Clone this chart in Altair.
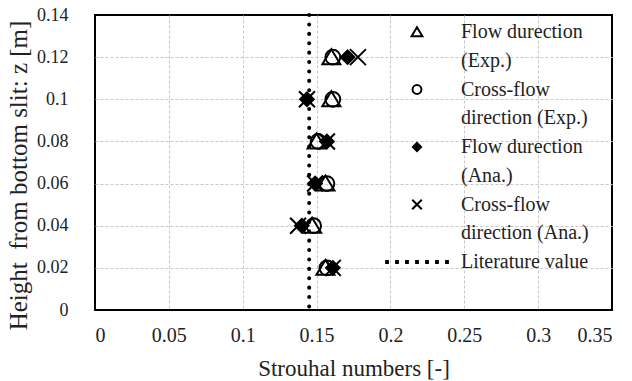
import altair as alt
import pandas as pd

# ---- data ----
z = [0.02, 0.04, 0.06, 0.08, 0.10, 0.12]
flow_exp = [0.156, 0.147, 0.156, 0.150, 0.160, 0.160]     # triangles
cross_exp = [0.157, 0.148, 0.157, 0.151, 0.161, 0.161]    # circles
flow_ana = [0.161, 0.140, 0.149, 0.157, 0.1435, 0.171]    # diamonds
cross_ana = [0.161, 0.1375, 0.149, 0.157, 0.1435, 0.178]  # crosses
literature = [0.145]

legend_keys = ["A1", "A2", "B1", "B2", "C1", "C2", "D1", "D2", "E"]
legend_text = ["Flow durection", "(Exp.)", "Cross-flow", "direction (Exp.)",
               "Flow durection", "(Ana.)", "Cross-flow", "direction (Ana.)",
               "Literature value"]

x_ticks = [0, 0.05, 0.1, 0.15, 0.2, 0.25, 0.3, 0.35]
y_ticks = [0, 0.02, 0.04, 0.06, 0.08, 0.1, 0.12, 0.14]

rows = []
for key, vals in [("A1", flow_exp), ("B1", cross_exp), ("C1", flow_ana), ("D1", cross_ana)]:
    for zz, v in zip(z, vals):
        rows.append({"series": key, "st": v, "z": zz})
df = pd.DataFrame(rows)
lit_df = pd.DataFrame({"st": literature})

TRI = "M0,-0.8L0.9,0.7L-0.9,0.7Z"
CIRC = "M0.74,0A0.74,0.74 0 1,1 -0.74,0A0.74,0.74 0 1,1 0.74,0Z"
DIAM = "M-0.68,0L0,-0.68L0.68,0L0,0.68Z"
XSH = "M-0.8,-0.8L0.8,0.8M0.8,-0.8L-0.8,0.8"
BLANK = "M0,0"
dots = []
for c in [-5.0, -3.33, -1.67, 0, 1.67, 3.33, 5.0]:
    dots.append("M%.2f,-0.15h0.3v0.3h-0.3Z" % (c - 0.15))
DOTS = "".join(dots)

shape_range = [TRI, BLANK, CIRC, BLANK, DIAM, BLANK, XSH, BLANK, DOTS]
fill_range = ["transparent", "transparent", "transparent", "transparent",
              "black", "transparent", "black", "transparent", "black"]
stroke_range = ["black"] * 9

label_expr = ""
for k, t in zip(legend_keys, legend_text):
    label_expr += "datum.label == '%s' ? '%s' : " % (k, t)
label_expr += "''"

FONT = "Liberation Serif, Times New Roman, DejaVu Serif, serif"
TXT = "#222222"

legend = alt.Legend(
    orient="none", legendX=312, legendY=7, padding=0, title=None,
    labelExpr=label_expr, labelFont=FONT, labelFontSize=20, labelColor=TXT,
    labelOffset=34, labelLimit=300, symbolSize=144, symbolStrokeWidth=2,
    symbolStrokeColor="black", rowPadding=8.75,
)

edge_hide = {"condition": {"test": "datum.value <= 0 || datum.value >= 0.35", "value": 0}, "value": 1}
edge_hide_y = {"condition": {"test": "datum.value <= 0 || datum.value >= 0.14", "value": 0}, "value": 1}

x_enc = alt.X("st:Q", scale=alt.Scale(domain=[0, 0.35], nice=False, zero=True),
              axis=alt.Axis(values=x_ticks, format=".2~f", title="Strouhal numbers [-]",
                            labelFont=FONT, titleFont=FONT,
                            labelFontSize=20, gridOpacity=edge_hide,
                            labelBaseline="alphabetic", labelPadding=31,
                            titleFontSize=23, titleBaseline="alphabetic", titleY=65))

points = alt.Chart(df).mark_point(filled=True, stroke="black", strokeWidth=2, size=400, opacity=1).encode(
    x=x_enc,
    y=alt.Y("z:Q", scale=alt.Scale(domain=[0, 0.14], nice=False),
            axis=alt.Axis(values=y_ticks, format=".2~f",
                          title="Height\u00a0 from bottom slit: z [m]",
                          labelFont=FONT, titleFont=FONT,
                          labelFontSize=18, labelPadding=27, gridOpacity=edge_hide_y,
                          titleFontSize=25, titleAngle=270, titleAlign="center",
                          titleBaseline="middle", titleX=-77, titleY=160)),
    shape=alt.Shape("series:N", scale=alt.Scale(domain=legend_keys, range=shape_range), legend=legend),
    fill=alt.Fill("series:N", scale=alt.Scale(domain=legend_keys, range=fill_range), legend=legend),
    stroke=alt.Stroke("series:N", scale=alt.Scale(domain=legend_keys, range=stroke_range), legend=legend),
)

rule = alt.Chart(lit_df).mark_rule(color="black", strokeWidth=4, strokeDash=[0.1, 9.3], strokeCap="round").encode(
    x=alt.X("st:Q")
)

chart = alt.layer(rule, points).properties(
    width=517, height=295,
    autosize=alt.AutoSizeParams(type="none"),
    padding={"left": 95, "top": 15, "right": 20, "bottom": 71},
).configure(
    background="white", font=FONT
).configure_view(
    stroke="black", strokeWidth=2
).configure_axis(
    labelColor=TXT, titleColor=TXT,
    titleFontWeight="normal", ticks=False, tickSize=0, domain=False,
    grid=True, gridColor="#c8c8c8", gridDash=[3, 2], gridWidth=1,
)

chart.save("out.html", embed_options={"renderer": "svg", "actions": False})
